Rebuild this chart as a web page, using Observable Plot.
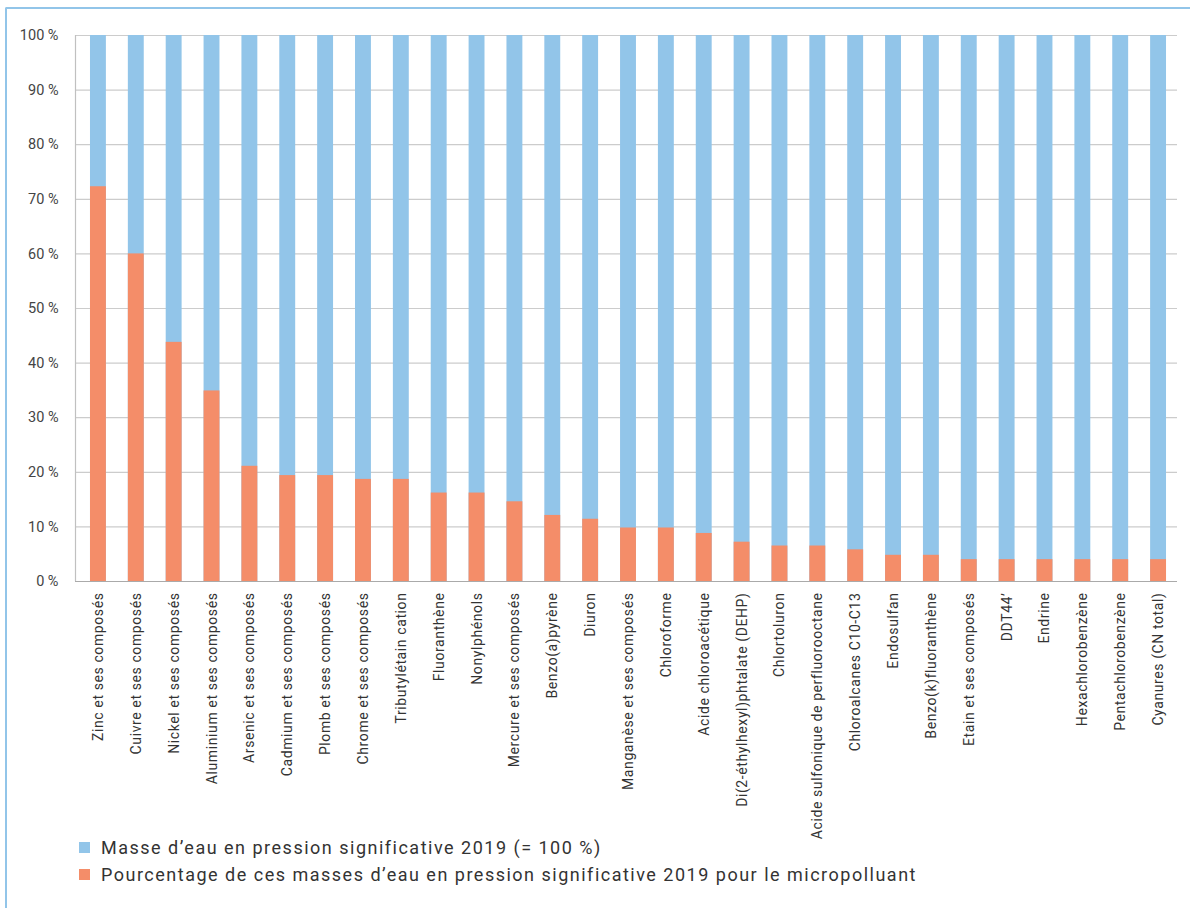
<!DOCTYPE html>
<html>
<head>
<meta charset="utf-8">
<script src="https://cdn.jsdelivr.net/npm/d3@7"></script>
<script src="https://cdn.jsdelivr.net/npm/@observablehq/plot@0.6"></script>
<style>
  html, body { margin: 0; padding: 0; background: #fff; }
  #wrap { position: relative; width: 1190px; height: 908px; overflow: hidden; font-family: Roboto, "Noto Sans", sans-serif; }
  #frame { position: absolute; left: 5px; top: 7px; width: 1200px; height: 920px; border-left: 2.5px solid #92C5E9; border-top: 2.5px solid #92C5E9; border-top-left-radius: 2px; }
  #chart { position: absolute; left: 0; top: 0; }
  #legend { position: absolute; left: 79px; top: 834px; font-size: 18px; letter-spacing: 1.5px; color: #333; line-height: 27px; }
  .item { display: flex; align-items: center; white-space: nowrap; }
  .sw { width: 11px; height: 11px; margin-right: 11px; display: inline-block; }
  #chart svg g[aria-label="x-axis tick label"] text { letter-spacing: 0.6px; }
</style>
</head>
<body>
<div id="wrap">
  <div id="frame"></div>
  <div id="chart"></div>
  <div id="legend"></div>
</div>
<script>
const categories = [
  "Zinc et ses composés", "Cuivre et ses composés", "Nickel et ses composés",
  "Aluminium et ses composés", "Arsenic et ses composés", "Cadmium et ses composés",
  "Plomb et ses composés", "Chrome et ses composés", "Tributylétain cation",
  "Fluoranthène", "Nonylphénols", "Mercure et ses composés", "Benzo(a)pyrène",
  "Diuron", "Manganèse et ses composés", "Chloroforme", "Acide chloroacétique",
  "Di(2-éthylhexyl)phtalate (DEHP)", "Chlortoluron", "Acide sulfonique de perfluorooctane",
  "Chloroalcanes C10-C13", "Endosulfan", "Benzo(k)fluoranthène", "Etain et ses composés",
  "DDT44’", "Endrine", "Hexachlorobenzène", "Pentachlorobenzène", "Cyanures (CN total)"
];
const totalValues = categories.map(() => 100);
const pollutantValues = [
  72.3, 60.0, 43.8, 34.9, 21.1, 19.4, 19.4, 18.7, 18.7,
  16.2, 16.2, 14.6, 12.1, 11.4, 9.8, 9.8, 8.8, 7.2, 6.5, 6.5,
  5.8, 4.8, 4.8, 4.0, 4.0, 4.0, 4.0, 4.0, 4.0
];
const yTicks = [0, 10, 20, 30, 40, 50, 60, 70, 80, 90, 100];
const seriesNames = [
  "Masse d’eau en pression significative 2019 (= 100 %)",
  "Pourcentage de ces masses d’eau en pression significative 2019 pour le micropolluant"
];
const seriesColors = ["#92C5E9", "#F48D69"];

const rows = categories.map((c, i) => ({cat: c, total: totalValues[i], part: pollutantValues[i]}));

const chart = Plot.plot({
  width: 1190,
  height: 860,
  marginTop: 35,
  marginLeft: 75,
  marginRight: 13,
  marginBottom: 279,
  style: {fontFamily: "Roboto, 'Noto Sans', sans-serif", background: "transparent"},
  x: {domain: categories, paddingInner: 0.58, paddingOuter: 0.29, insetLeft: 4, round: false, label: null},
  y: {domain: [0, 100], label: null},
  marks: [
    Plot.ruleY(yTicks.filter(d => d > 0), {stroke: "#cccccc", strokeWidth: 1.2}),
    Plot.barY(rows, {x: "cat", y: "total", fill: seriesColors[0]}),
    Plot.barY(rows, {x: "cat", y: "part", fill: seriesColors[1]}),
    Plot.ruleY([0], {stroke: "#aaa", strokeWidth: 1.2}),
    Plot.axisY({ticks: yTicks, tickFormat: d => d + " %", tickSize: 0, tickPadding: 17, fontSize: 14.5, color: "#444"}),
    Plot.axisX({tickSize: 0, tickRotate: -90, tickPadding: 11, fontSize: 14, color: "#333"})
  ]
});

// vertical y-axis line at the plot's left edge
const svg = d3.select(chart);
svg.append("line")
  .attr("x1", 75.5).attr("x2", 75.5).attr("y1", 35).attr("y2", 581)
  .attr("stroke", "#c0c0c0").attr("stroke-width", 1.2);

document.getElementById("chart").appendChild(chart);

const legend = document.getElementById("legend");
seriesNames.forEach((name, i) => {
  const item = document.createElement("div");
  item.className = "item";
  const sw = document.createElement("span");
  sw.className = "sw";
  sw.style.background = seriesColors[i];
  const t = document.createElement("span");
  t.textContent = name;
  item.appendChild(sw);
  item.appendChild(t);
  legend.appendChild(item);
});
</script>
</body>
</html>
